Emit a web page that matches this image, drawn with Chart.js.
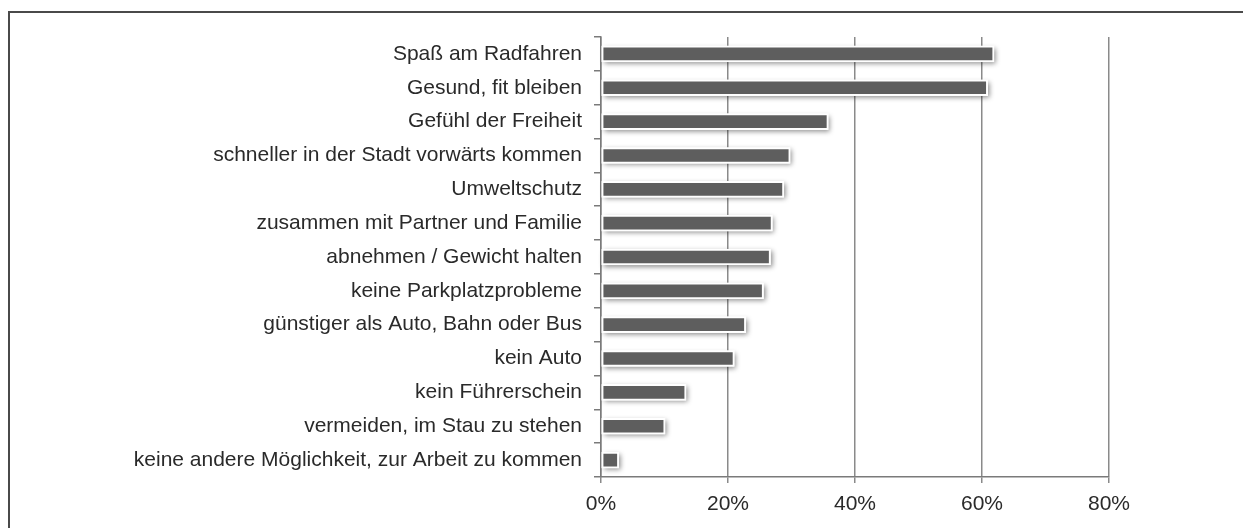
<!DOCTYPE html>
<html>
<head>
<meta charset="utf-8">
<script src="https://cdn.jsdelivr.net/npm/chart.js@4/dist/chart.umd.min.js"></script>
<style>
  html, body { margin: 0; padding: 0; background: #fff; overflow: hidden; }
  #wrap { position: relative; width: 1243px; height: 528px; }
  #frame {
    position: absolute; left: 8px; top: 11px; width: 1400px; height: 700px;
    border: 2px solid #4a4a4a; box-sizing: border-box;
  }
  canvas { position: absolute; left: 0; top: 0; }
</style>
</head>
<body>
<div id="wrap">
  <div id="frame"></div>
  <canvas id="chart" width="1243" height="528"></canvas>
</div>
<script>
// Gründe fürs Radfahren (Anteil der Nennungen in %)
const labels = [
    'Spaß am Radfahren',
    'Gesund, fit bleiben',
    'Gefühl der Freiheit',
    'schneller in der Stadt vorwärts kommen',
    'Umweltschutz',
    'zusammen mit Partner und Familie',
    'abnehmen / Gewicht halten',
    'keine Parkplatzprobleme',
    'günstiger als Auto, Bahn oder Bus',
    'kein Auto',
    'kein Führerschein',
    'vermeiden, im Stau zu stehen',
    'keine andere Möglichkeit, zur Arbeit zu kommen'
];
const values = [61.9, 60.9, 35.8, 29.8, 28.8, 27.0, 26.7, 25.6, 22.8, 21.0, 13.4, 10.1, 2.8];
const xTicks = [0, 20, 40, 60, 80];

// Schatten unter den Balken (Chart.js schneidet ihn sonst beim Zeichnen ab)
const barShadow = {
    id: 'barShadow',
    beforeDatasetsDraw(chart) {
        const ctx = chart.ctx;
        const meta = chart.getDatasetMeta(0);
        ctx.save();
        ctx.shadowColor = 'rgba(0,0,0,0.45)';
        ctx.shadowBlur = 5;
        ctx.shadowOffsetX = 2;
        ctx.shadowOffsetY = 2;
        ctx.fillStyle = '#ffffff';
        meta.data.forEach(bar => {
            const p = bar.getProps(['x', 'y', 'base', 'height'], true);
            ctx.fillRect(p.base, p.y - p.height / 2, p.x - p.base, p.height);
        });
        ctx.restore();
    }
};

const font = { family: '"Liberation Sans", Arial, sans-serif', size: 21 };

new Chart(document.getElementById('chart'), {
    type: 'bar',
    data: {
        labels: labels,
        datasets: [{
            data: values,
            backgroundColor: '#5e5e5e',
            borderColor: '#ffffff',
            borderWidth: 2,
            borderSkipped: false,
            barThickness: 16
        }]
    },
    plugins: [barShadow],
    options: {
        indexAxis: 'y',
        responsive: false,
        animation: false,
        layout: { padding: { top: 37, right: 134, bottom: 0, left: 0 } },
        plugins: { legend: { display: false }, tooltip: { enabled: false } },
        scales: {
            x: {
                min: 0,
                max: 80,
                afterFit(scale) { scale.height = 51; },
                afterBuildTicks(scale) { scale.ticks = xTicks.map(v => ({ value: v })); },
                ticks: {
                    callback: v => v + '%',
                    font: font,
                    color: '#2a2a2a',
                    padding: 9
                },
                grid: { color: '#8a8a8a', lineWidth: 1.5, tickLength: 6 },
                border: { color: '#7a7a7a', width: 1.5 }
            },
            y: {
                afterFit(scale) { scale.width = 601; },
                ticks: { font: font, color: '#2a2a2a', padding: 12 },
                grid: { drawOnChartArea: false, offset: true, tickLength: 7, color: '#7a7a7a', lineWidth: 1.5 },
                border: { color: '#7a7a7a', width: 1.5 }
            }
        }
    }
});
</script>
</body>
</html>
